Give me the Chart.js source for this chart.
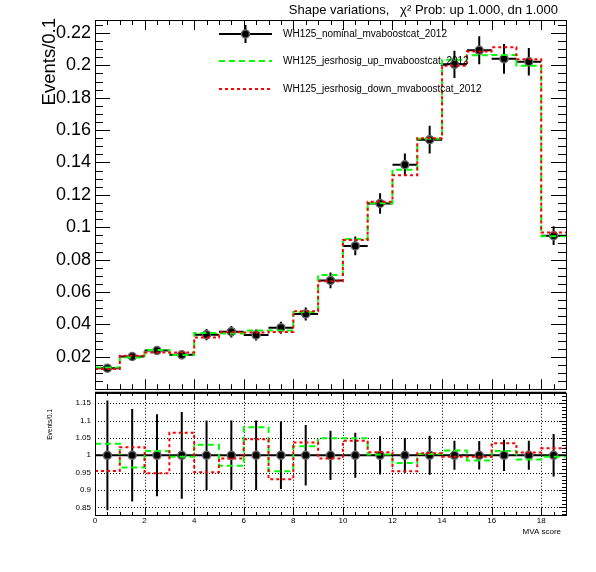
<!DOCTYPE html>
<html>
<head>
<meta charset="utf-8">
<script src="https://cdn.jsdelivr.net/npm/chart.js@4.4.0/dist/chart.umd.min.js"></script>
<style>
body { margin: 0; background: #fff; }
#wrap { position: relative; width: 596px; height: 572px; }
canvas { position: absolute; left: 0; }
#top { top: 0; }
#bot { top: 384px; }
</style>
</head>
<body>
<div id="wrap">
<canvas id="top" width="596" height="404"></canvas>
<canvas id="bot" width="596" height="188"></canvas>
</div>
<script>
// bin centres of the MVA score histogram (bin width 1)
const bins = [0.5, 1.5, 2.5, 3.5, 4.5, 5.5, 6.5, 7.5, 8.5, 9.5, 10.5, 11.5, 12.5, 13.5, 14.5, 15.5, 16.5, 17.5, 18.5];

// top panel, Events/0.1
const nominal    = [0.0130, 0.0202, 0.0239, 0.0212, 0.0337, 0.0355, 0.0335, 0.0380, 0.0465, 0.0672, 0.0885, 0.1147, 0.1386, 0.1541, 0.2006, 0.2093, 0.2040, 0.2022, 0.0948];
const nominalErr = [0.0021, 0.0027, 0.0028, 0.0027, 0.0034, 0.0036, 0.0034, 0.0037, 0.0040, 0.0048, 0.0058, 0.0063, 0.0069, 0.0086, 0.0084, 0.0086, 0.0092, 0.0085, 0.0058];
const jesUp      = [0.0134, 0.0195, 0.0242, 0.0211, 0.0347, 0.0344, 0.0362, 0.0363, 0.0477, 0.0705, 0.0928, 0.1149, 0.1355, 0.1547, 0.2034, 0.2062, 0.2064, 0.1998, 0.0944];
const jesDown    = [0.0124, 0.0207, 0.0227, 0.0226, 0.0320, 0.0352, 0.0350, 0.0354, 0.0482, 0.0666, 0.0922, 0.1157, 0.1322, 0.1550, 0.1998, 0.2085, 0.2111, 0.2038, 0.0967];

// bottom panel, ratio to nominal
const ratioNom  = [1, 1, 1, 1, 1, 1, 1, 1, 1, 1, 1, 1, 1, 1, 1, 1, 1, 1, 1];
const ratioErr  = [0.158, 0.133, 0.118, 0.125, 0.100, 0.100, 0.100, 0.097, 0.087, 0.071, 0.065, 0.055, 0.050, 0.056, 0.042, 0.041, 0.045, 0.042, 0.061];
const ratioUp   = [1.033, 0.965, 1.012, 0.996, 1.030, 0.970, 1.081, 0.954, 1.026, 1.049, 1.049, 1.002, 0.978, 1.004, 1.014, 0.985, 1.012, 0.988, 0.996];
const ratioDown = [0.955, 1.023, 0.948, 1.065, 0.951, 0.991, 1.046, 0.931, 1.037, 0.991, 1.042, 1.009, 0.954, 1.006, 0.996, 0.996, 1.035, 1.008, 1.020];

const labels = ['WH125_nominal_mvaboostcat_2012', 'WH125_jesrhosig_up_mvaboostcat_2012', 'WH125_jesrhosig_down_mvaboostcat_2012'];
const FONT = '"Liberation Sans", Arial, sans-serif';

// histogram outline: left edge of each bin, plus the right edge of the last one
function stepPoints(vals) {
  let pts = vals.map((v, i) => ({ x: bins[i] - 0.5, y: v }));
  pts.push({ x: bins[bins.length - 1] + 0.5, y: vals[vals.length - 1] });
  return pts;
}
function pointData(vals) {
  return vals.map((v, i) => ({ x: bins[i], y: v }));
}

function datasets(nom, err, up, down) {
  return [
    { label: labels[0], data: pointData(nom), errors: err, showLine: false,
      pointRadius: 4, pointBackgroundColor: '#000', pointBorderColor: '#666', pointBorderWidth: 1.5, order: 3 },
    { label: labels[1], data: stepPoints(up), stepped: true, borderColor: '#00ff00', borderWidth: 2,
      borderDash: [6, 4], pointRadius: 0, fill: false, order: 2 },
    { label: labels[2], data: stepPoints(down), stepped: true, borderColor: '#ff0000', borderWidth: 2,
      borderDash: [3, 3], pointRadius: 0, fill: false, order: 1 }
  ];
}

function drawTicks(ctx, scale, a, side, t) {
  const n0 = Math.ceil(scale.min / t.minor - 1e-6), n1 = Math.floor(scale.max / t.minor + 1e-6);
  ctx.beginPath();
  for (let n = n0; n <= n1; n++) {
    const v = n * t.minor, r = v / t.major;
    const len = Math.abs(r - Math.round(r)) < 1e-6 ? t.lenMajor : t.lenMinor;
    const p = Math.round(scale.getPixelForValue(v)) + 0.5;
    if (side === 'left')   { ctx.moveTo(a.left, p);  ctx.lineTo(a.left + len, p); }
    if (side === 'right')  { ctx.moveTo(a.right, p); ctx.lineTo(a.right - len, p); }
    if (side === 'top')    { ctx.moveTo(p, a.top);    ctx.lineTo(p, a.top + len); }
    if (side === 'bottom') { ctx.moveTo(p, a.bottom); ctx.lineTo(p, a.bottom - len); }
  }
  ctx.stroke();
}

const rootStyle = {
  id: 'rootStyle',
  beforeDatasetsDraw(chart, args, opts) {
    const ctx = chart.ctx, xs = chart.scales.x, ys = chart.scales.y, a = chart.chartArea;
    ctx.save();
    if (opts.grid) {
      ctx.strokeStyle = '#000';
      ctx.lineWidth = 1;
      ctx.setLineDash([1, 2]);
      ctx.beginPath();
      for (let n = 1; n * opts.grid.x < xs.max - 1e-6; n++) {
        const p = Math.round(xs.getPixelForValue(n * opts.grid.x)) + 0.5;
        ctx.moveTo(p, a.top); ctx.lineTo(p, a.bottom);
      }
      for (let n = Math.ceil(ys.min / opts.grid.y); n * opts.grid.y < ys.max; n++) {
        const p = Math.round(ys.getPixelForValue(n * opts.grid.y)) + 0.5;
        ctx.moveTo(a.left, p); ctx.lineTo(a.right, p);
      }
      ctx.stroke();
      ctx.setLineDash([]);
    }
    // error bars of the nominal points
    chart.data.datasets.forEach(ds => {
      if (!ds.errors) return;
      ctx.strokeStyle = '#000';
      ctx.lineWidth = 2;
      ds.data.forEach((p, j) => {
        const px = xs.getPixelForValue(p.x), py = ys.getPixelForValue(p.y);
        ctx.beginPath();
        ctx.moveTo(xs.getPixelForValue(p.x - 0.5), py);
        ctx.lineTo(xs.getPixelForValue(p.x + 0.5), py);
        ctx.moveTo(px, ys.getPixelForValue(p.y - ds.errors[j]));
        ctx.lineTo(px, ys.getPixelForValue(p.y + ds.errors[j]));
        ctx.stroke();
      });
    });
    ctx.restore();
  },
  afterDraw(chart, args, opts) {
    const ctx = chart.ctx, a = chart.chartArea;
    ctx.save();
    ctx.strokeStyle = '#000';
    ctx.lineWidth = 1;
    ctx.strokeRect(Math.round(a.left) + 0.5, Math.round(a.top) + 0.5, Math.round(a.right - a.left), Math.round(a.bottom - a.top));
    if (opts.thickTop) {
      ctx.lineWidth = 2;
      ctx.beginPath(); ctx.moveTo(a.left, a.top); ctx.lineTo(a.right, a.top); ctx.stroke();
    }
    ctx.lineWidth = 1;
    for (const side in opts.ticks) {
      const sc = (side === 'left' || side === 'right') ? chart.scales.y : chart.scales.x;
      drawTicks(ctx, sc, a, side, opts.ticks[side]);
    }
    ctx.fillStyle = '#000';
    (opts.texts || []).forEach(t => {
      ctx.save();
      ctx.font = t.font;
      ctx.textAlign = t.align;
      ctx.textBaseline = 'alphabetic';
      ctx.translate(t.x, t.y);
      if (t.rotate) ctx.rotate(-Math.PI / 2);
      ctx.fillText(t.text, 0, 0);
      ctx.restore();
    });
    if (opts.legend) {
      const L = opts.legend;
      chart.data.datasets.forEach((ds, i) => {
        const y = L.rows[i];
        ctx.save();
        if (ds.errors) {
          ctx.strokeStyle = '#000'; ctx.lineWidth = 2;
          const xm = (L.x0 + L.x1) / 2;
          ctx.beginPath();
          ctx.moveTo(L.x0, y); ctx.lineTo(L.x1, y);
          ctx.moveTo(xm, y - 9); ctx.lineTo(xm, y + 9);
          ctx.stroke();
          ctx.beginPath(); ctx.arc(xm, y, 4, 0, Math.PI * 2);
          ctx.fillStyle = '#000'; ctx.fill();
          ctx.lineWidth = 1.5; ctx.strokeStyle = '#666'; ctx.stroke();
        } else {
          ctx.strokeStyle = ds.borderColor; ctx.lineWidth = 2;
          ctx.setLineDash(ds.borderDash);
          ctx.beginPath(); ctx.moveTo(L.x0, y); ctx.lineTo(L.x1, y); ctx.stroke();
        }
        ctx.fillStyle = '#000';
        ctx.font = L.font;
        ctx.textAlign = 'left';
        ctx.textBaseline = 'middle';
        ctx.fillText(ds.label, L.textX, y + 0.5);
        ctx.restore();
      });
    }
    ctx.restore();
  }
};

const fmt = v => String(+v.toFixed(2));

new Chart(document.getElementById('top'), {
  type: 'line',
  data: { datasets: datasets(nominal, nominalErr, jesUp, jesDown) },
  options: {
    responsive: false, animation: false, devicePixelRatio: 1,
    layout: { padding: { left: 0, right: 30, top: 20, bottom: 12 } },
    plugins: {
      legend: { display: false }, tooltip: { enabled: false },
      rootStyle: {
        ticks: {
          left:   { major: 0.02, minor: 0.005, lenMajor: 15, lenMinor: 8 },
          right:  { major: 0.02, minor: 0.005, lenMajor: 15, lenMinor: 8 },
          top:    { major: 2, minor: 0.5, lenMajor: 10, lenMinor: 5 },
          bottom: { major: 2, minor: 0.5, lenMajor: 10, lenMinor: 5 }
        },
        texts: [
          { text: 'Shape variations,   \u03c7\u00b2 Prob: up 1.000, dn 1.000', x: 558, y: 14, align: 'right', font: '13px ' + FONT },
          { text: 'Events/0.1', x: 55, y: 18, align: 'right', rotate: true, font: '18.5px ' + FONT }
        ],
        legend: { x0: 219, x1: 272, textX: 283, rows: [34, 61, 89], font: '10px ' + FONT }
      }
    },
    scales: {
      x: { type: 'linear', min: 0, max: 19, display: false },
      y: {
        min: 0, max: 0.228,
        afterFit(s) { s.width = 95; },
        grid: { display: false, drawTicks: false }, border: { display: false },
        ticks: { stepSize: 0.02, includeBounds: false, padding: 4, color: '#000',
                 font: { family: FONT, size: 18 }, callback: v => v < 1e-9 ? '' : fmt(v) }
      }
    }
  },
  plugins: [rootStyle]
});

new Chart(document.getElementById('bot'), {
  type: 'line',
  data: { datasets: datasets(ratioNom, ratioErr, ratioUp, ratioDown) },
  options: {
    responsive: false, animation: false, devicePixelRatio: 1,
    layout: { padding: { left: 0, right: 30, top: 8, bottom: 0 } },
    plugins: {
      legend: { display: false }, tooltip: { enabled: false },
      rootStyle: {
        grid: { x: 2, y: 0.05 },
        thickTop: true,
        ticks: {
          right:  { major: 0.05, minor: 0.01, lenMajor: 7, lenMinor: 4 },
          top:    { major: 2, minor: 0.5, lenMajor: 7, lenMinor: 3 },
          bottom: { major: 2, minor: 0.5, lenMajor: 7, lenMinor: 3 }
        },
        texts: [
          { text: 'Events/0.1', x: 52, y: 25, align: 'right', rotate: true, font: '6.5px ' + FONT },
          { text: 'MVA score', x: 561, y: 150, align: 'right', font: '8px ' + FONT }
        ]
      }
    },
    scales: {
      x: {
        type: 'linear', min: 0, max: 19,
        afterFit(s) { s.height = 57; },
        grid: { display: false, drawTicks: false }, border: { display: false },
        ticks: { stepSize: 2, includeBounds: false, autoSkip: false, maxRotation: 0, padding: 1,
                 color: '#000', font: { family: FONT, size: 8 }, callback: v => String(v) }
      },
      y: {
        min: 0.828, max: 1.18,
        afterFit(s) { s.width = 95; },
        grid: { display: false, drawTicks: false }, border: { display: false },
        ticks: { stepSize: 0.05, includeBounds: false, padding: 4, color: '#000',
                 font: { family: FONT, size: 8 }, callback: fmt }
      }
    }
  },
  plugins: [rootStyle]
});
</script>
</body>
</html>
